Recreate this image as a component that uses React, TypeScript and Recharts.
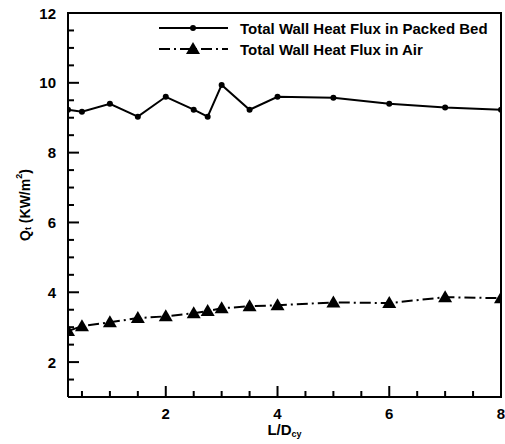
import React from "react";
import { Legend, Line, LineChart, XAxis, YAxis } from "recharts";

const positions = [0.25, 0.5, 1, 1.5, 2, 2.5, 2.75, 3, 3.5, 4, 5, 6, 7, 8];
const packedBed = [9.23, 9.17, 9.4, 9.03, 9.6, 9.23, 9.03, 9.94, 9.23, 9.6, 9.57, 9.4, 9.29, 9.23];
const air = [2.89, 3.03, 3.14, 3.26, 3.31, 3.4, 3.46, 3.54, 3.6, 3.63, 3.71, 3.69, 3.86, 3.83];

const xDomain = [0.25, 8];
const yDomain = [1, 12];
const xTicks = [0.5, 1, 1.5, 2, 2.5, 3, 3.5, 4, 4.5, 5, 5.5, 6, 6.5, 7, 7.5, 8];
const xLabels = [2, 4, 6, 8];
const yTicks = [1.5, 2, 2.5, 3, 3.5, 4, 4.5, 5, 5.5, 6, 6.5, 7, 7.5, 8, 8.5, 9, 9.5, 10, 10.5, 11, 11.5, 12];
const yLabels = [2, 4, 6, 8, 10, 12];

const seriesNames = ["Total Wall Heat Flux in Packed Bed", "Total Wall Heat Flux in Air"];

const data = positions.map((x, i) => ({ x, bed: packedBed[i], air: air[i] }));

// layout
const W = 505;
const H = 444;
const M_TOP = 13;
const M_RIGHT = 4;
const Y_W = 68;
const X_H = 47;
const PLOT_W = W - Y_W - M_RIGHT;
const PLOT_H = H - M_TOP - X_H;

const font = "'Liberation Sans', Arial, sans-serif";
const airDash = "11 4 2 4";
const frame = { stroke: "#000", strokeWidth: 2 };

function YTick(props: any) {
  const { x, y, payload } = props;
  const v = payload.value;
  const major = yLabels.includes(v);
  const ax = x + 12;
  return (
    <g>
      <line x1={ax} x2={ax + (major ? 11 : 6)} y1={y} y2={y} stroke="#000" strokeWidth={2} />
      {v === yDomain[1] && (
        // top edge of the box
        <line x1={ax} x2={ax + PLOT_W} y1={y} y2={y} stroke="#000" strokeWidth={2} strokeLinecap="square" />
      )}
      {major && (
        <text x={x} y={y} textAnchor="end" dominantBaseline="central" fontFamily={font} fontWeight="bold" fontSize={15} fill="#000">
          {v}
        </text>
      )}
    </g>
  );
}

function XTick(props: any) {
  const { x, y, payload } = props;
  const v = payload.value;
  const major = xLabels.includes(v);
  const ay = y - 10;
  return (
    <g>
      <line x1={x} x2={x} y1={ay} y2={ay - (major ? 11 : 6)} stroke="#000" strokeWidth={2} />
      {v === xDomain[1] && (
        // right edge of the box
        <line x1={x} x2={x} y1={ay} y2={ay - PLOT_H} stroke="#000" strokeWidth={2} strokeLinecap="square" />
      )}
      {major && (
        <text x={x} y={y + 6} textAnchor="middle" dominantBaseline="central" fontFamily={font} fontWeight="bold" fontSize={15} fill="#000">
          {v}
        </text>
      )}
    </g>
  );
}

function Triangle(props: any) {
  const { cx, cy } = props;
  if (cx == null || cy == null) return null;
  return <path d={`M${cx},${cy - 7}L${cx + 7},${cy + 5}L${cx - 7},${cy + 5}Z`} fill="#000" />;
}

function LegendBox() {
  return (
    <svg width={340} height={42} style={{ display: "block" }}>
      <line x1={6} x2={75} y1={10} y2={10} stroke="#000" strokeWidth={2} />
      <circle cx={40} cy={10} r={3} fill="#000" />
      <text x={87} y={10} dominantBaseline="central" fontFamily={font} fontWeight="bold" fontSize={15}>
        {seriesNames[0]}
      </text>
      <line x1={6} x2={75} y1={31} y2={31} stroke="#000" strokeWidth={2} strokeDasharray={airDash} />
      <path d="M40,24L47,36L33,36Z" fill="#000" />
      <text x={87} y={31} dominantBaseline="central" fontFamily={font} fontWeight="bold" fontSize={15}>
        {seriesNames[1]}
      </text>
    </svg>
  );
}

function YLabel(props: any) {
  const { viewBox } = props;
  const cy = viewBox.y + viewBox.height / 2;
  const cx = 25;
  return (
    <text x={cx} y={cy} transform={`rotate(-90, ${cx}, ${cy})`} textAnchor="middle" dominantBaseline="central" fontFamily={font} fontWeight="bold" fontSize={14}>
      Q<tspan fontSize={9} dy={3}>t</tspan>
      <tspan dy={-3}> (KW/m</tspan>
      <tspan fontSize={9} dy={-6}>2</tspan>
      <tspan dy={6}>)</tspan>
    </text>
  );
}

function XLabel(props: any) {
  const { viewBox } = props;
  const cx = viewBox.x + viewBox.width / 2;
  return (
    <text x={cx} y={429} textAnchor="middle" dominantBaseline="central" fontFamily={font} fontWeight="bold" fontSize={15}>
      L/D<tspan fontSize={9} dy={5}>cy</tspan>
    </text>
  );
}

export default function App() {
  return (
    <div style={{ position: "absolute", left: 0, top: 0, width: W, height: H }}>
      <LineChart width={W} height={H} data={data} margin={{ top: M_TOP, right: M_RIGHT, bottom: 0, left: 0 }}>
        <XAxis
          type="number"
          dataKey="x"
          domain={xDomain}
          ticks={xTicks}
          interval={0}
          allowDataOverflow
          tickSize={0}
          tickMargin={10}
          tickLine={false}
          axisLine={frame}
          tick={<XTick />}
          height={X_H}
          label={<XLabel />}
        />
        <YAxis
          type="number"
          domain={yDomain}
          ticks={yTicks}
          interval={0}
          allowDataOverflow
          tickSize={0}
          tickMargin={12}
          tickLine={false}
          axisLine={frame}
          tick={<YTick />}
          width={Y_W}
          label={<YLabel />}
        />
        <Legend
          layout="horizontal"
          verticalAlign="middle"
          align="center"
          wrapperStyle={{ top: 18, left: 153, width: 340 }}
          content={<LegendBox />}
        />
        <Line
          dataKey="bed"
          name={seriesNames[0]}
          stroke="#000"
          strokeWidth={2}
          dot={{ r: 3, fill: "#000", stroke: "#000", strokeWidth: 0 }}
          isAnimationActive={false}
        />
        <Line
          dataKey="air"
          name={seriesNames[1]}
          stroke="#000"
          strokeWidth={2}
          strokeDasharray={airDash}
          dot={<Triangle />}
          isAnimationActive={false}
        />
      </LineChart>
      {/* top and right edges of the plot box */}
      <div
        style={{
          position: "absolute",
          left: Y_W - 1,
          top: M_TOP - 1,
          width: PLOT_W + 2,
          height: PLOT_H + 2,
          boxSizing: "border-box",
          borderTop: "2px solid #000",
          borderRight: "2px solid #000",
          pointerEvents: "none",
        }}
      />
    </div>
  );
}
